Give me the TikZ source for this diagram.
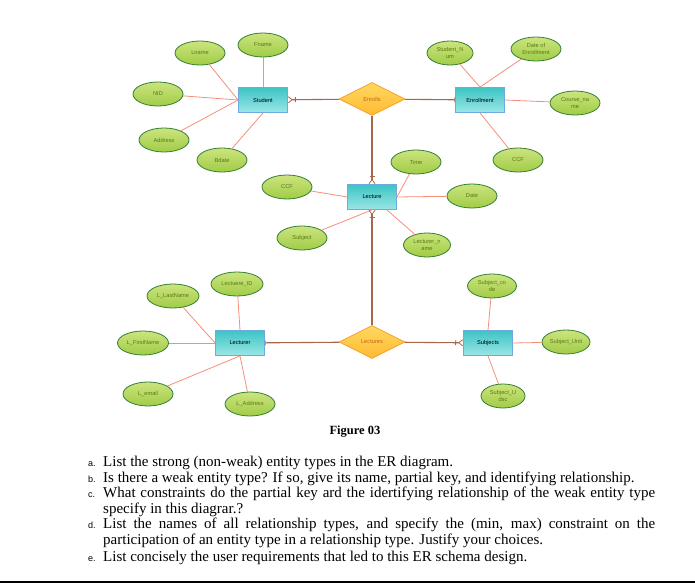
\documentclass[tikz,border=0pt]{standalone}
\usepackage{fontspec}
\setmainfont{Liberation Serif}
\newfontfamily\diagfont{Liberation Sans}
\usetikzlibrary{arrows.meta,shapes.geometric}
\definecolor{enttop}{RGB}{60,196,196}
\definecolor{entbot}{RGB}{156,230,230}
\definecolor{entline}{RGB}{110,170,222}
\definecolor{atttop}{RGB}{204,228,126}
\definecolor{attbot}{RGB}{160,204,70}
\definecolor{attline}{RGB}{52,128,52}
\definecolor{atttext}{RGB}{90,120,20}
\definecolor{reltop}{RGB}{255,216,96}
\definecolor{relbot}{RGB}{255,186,50}
\definecolor{relline}{RGB}{245,160,40}
\definecolor{reltext}{RGB}{196,100,20}
\definecolor{linkred}{RGB}{246,142,122}
\definecolor{linkbrown}{RGB}{166,104,74}
\newcommand{\qlabel}[1]{\makebox[15pt][l]{\diagfont\fontsize{9}{10}\selectfont #1}}

\begin{document}
\begin{tikzpicture}[
    x=1pt,y=-1pt,
    entity/.style={rectangle,draw=entline,top color=enttop,bottom color=entbot,line width=0.8pt,
      minimum width=49pt,minimum height=25pt,inner sep=0pt,font=\diagfont\fontsize{5.7}{6}\selectfont},
    attr/.style={ellipse,draw=attline,top color=atttop,bottom color=attbot,line width=0.8pt,
      minimum width=50pt,minimum height=24pt,inner sep=0pt,align=center,text=atttext,
      font=\diagfont\fontsize{5.7}{6.5}\selectfont},
    rel/.style={diamond,draw=relline,top color=reltop,bottom color=relbot,line width=0.8pt,
      minimum width=66pt,minimum height=33pt,inner sep=0pt,text=reltext,
      font=\diagfont\fontsize{5.7}{6}\selectfont},
    attlink/.style={draw=linkred,line width=0.8pt},
    rellink/.style={draw=linkbrown,line width=1.1pt},
    one/.style={-{Bar[width=5pt,line width=0.8pt]}},
    many/.style={-{Bar[width=5pt,line width=0.8pt,sep=2pt]Straight Barb[reversed,length=4pt,width=6pt,line width=0.8pt]}}
  ]
    \useasboundingbox (0,0) rectangle (695,585);
    % entities and relationships
    \node[entity] (student) at (263,100) {Student};
    \node[entity] (enrollment) at (480,100) {Enrollment};
    \node[entity] (lecture) at (372,197) {Lecture};
    \node[entity] (lecturer) at (240,343) {Lecturer};
    \node[entity] (subjects) at (488,343) {Subjects};
    \node[rel] (enrolls) at (372,99) {Enrolls};
    \node[rel] (lectures) at (372,342) {Lectures};
    % attributes
    \node[attr] (fname) at (263,45) {Fname};
    \node[attr] (lname) at (200,53) {Lname};
    \node[attr] (nid) at (158,94) {NID};
    \node[attr] (address) at (164,140) {Address};
    \node[attr] (bdate) at (222,160) {Bdate};
    \node[attr,minimum width=46pt] (snum) at (450,53) {Student\_N\\um};
    \node[attr] (enrolldate) at (536,49) {Date of\\Enrollment};
    \node[attr] (coursename) at (575,103) {Course\_na\\me};
    \node[attr] (enrollccf) at (518,160) {CCF};
    \node[attr] (time) at (416,162) {Time};
    \node[attr] (date) at (472,196) {Date};
    \node[attr] (lectureccf) at (287,187) {CCF};
    \node[attr] (subject) at (302,238) {Subject};
    \node[attr,minimum width=47pt] (lecturername) at (427,245) {Lecturer\_n\\ame};
    \node[attr,minimum width=52pt] (lecturerid) at (237,284) {Lectuere\_ID};
    \node[attr,minimum width=52pt] (llastname) at (173,296) {L\_LastName};
    \node[attr,minimum width=51pt] (lfirstname) at (143,343) {L\_FirstName};
    \node[attr] (lemail) at (148,394) {L\_email};
    \node[attr] (laddress) at (250,404) {L\_Address};
    \node[attr,minimum width=49pt] (subjectcode) at (492,286) {Subject\_co\\de};
    \node[attr,minimum width=48pt] (subjectunit) at (566,342) {Subject\_Unit};
    \node[attr,minimum width=44pt] (subjectdesc) at (503,396) {Subject\_U\\dsc};
    % attribute links
    \draw[attlink] (fname) -- (student.north);
    \draw[attlink] (lname) -- (student.west);
    \draw[attlink] (nid) -- (student.west);
    \draw[attlink] (address) -- (student.west);
    \draw[attlink] (bdate) -- (student.south);
    \draw[attlink] (snum) -- (enrollment.north);
    \draw[attlink] (enrolldate) -- (enrollment.north);
    \draw[attlink] (coursename) -- (enrollment.east);
    \draw[attlink] (enrollccf) -- (enrollment.south);
    \draw[attlink] (time) -- (lecture.east);
    \draw[attlink] (date) -- (lecture.east);
    \draw[attlink] (lectureccf) -- (lecture.west);
    \draw[attlink] (subject) -- (lecture.south);
    \draw[attlink] (lecturername) -- (lecture.-41);
    \draw[attlink] (lecturerid) -- (lecturer.north);
    \draw[attlink] (llastname) -- (lecturer.west);
    \draw[attlink] (lfirstname) -- (lecturer.west);
    \draw[attlink] (lemail) -- (lecturer.south);
    \draw[attlink] (laddress) -- (lecturer.south);
    \draw[attlink] (subjectcode) -- (subjects.north);
    \draw[attlink] (subjectunit) -- (subjects.east);
    \draw[attlink] (subjectdesc) -- (subjects.south);
    % relationship links
    \draw[rellink,many] (enrolls) -- (student);
    \draw[rellink,one] (enrolls) -- (enrollment);
    \draw[rellink,many] (enrolls) -- (lecture);
    \draw[rellink,many] (lectures) -- (lecture);
    \draw[rellink,one] (lectures) -- (lecturer);
    \draw[rellink,many] (lectures) -- (subjects);
    % caption and questions
    \node[font=\bfseries\fontsize{12.5}{14}\selectfont] (figcap) at (355,432) {Figure 03};
    \node[anchor=north west,inner sep=0pt,text width=567pt,align=justify,
      font=\fontsize{15}{15.5}\selectfont] (questions) at (88,456) {%
      \hyphenpenalty=10000\exhyphenpenalty=10000
      \hangindent=15pt\hangafter=1\qlabel{a.}List the strong (non-weak) entity types in the ER diagram.\par
      \hangindent=15pt\hangafter=1\qlabel{b.}Is there a weak entity type? If so, give its name, partial key, and identifying relationship.\par
      \hangindent=15pt\hangafter=1\qlabel{c.}What constraints do the partial key ard the idertifying relationship of the weak entity type specify in this diagrar.?\par
      \hangindent=15pt\hangafter=1\qlabel{d.}List the names of all relationship types, and specify the (min, max) constraint on the participation of an entity type in a relationship type. Justify your choices.\par
      \vspace{2pt}\hangindent=15pt\hangafter=1\qlabel{e.}List concisely the user requirements that led to this ER schema design.\par};
    \coordinate (ruleleft) at (0,582);
    \coordinate (ruleright) at (695,582);
    \draw[line width=1.5pt] (ruleleft) -- (ruleright);
  \end{tikzpicture}
\end{document}
